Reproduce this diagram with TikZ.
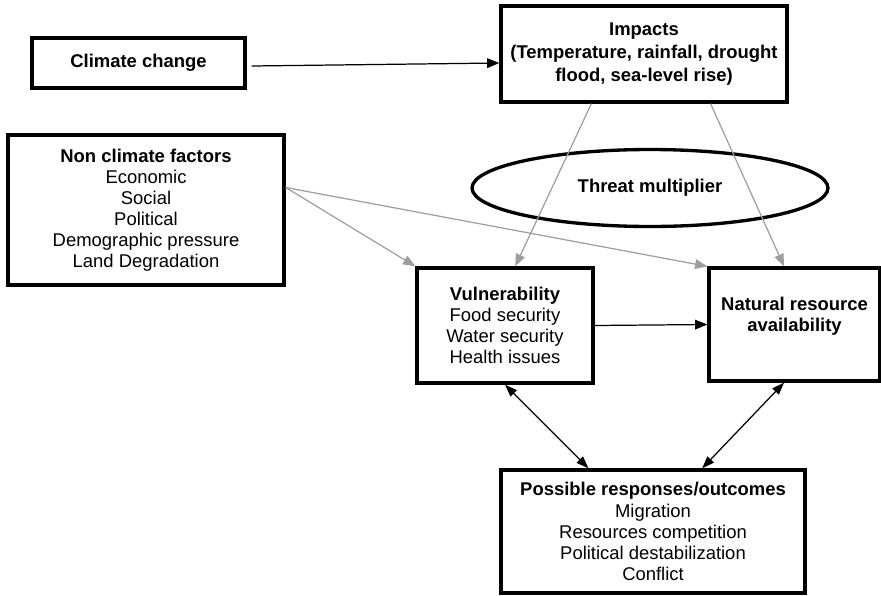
\documentclass[tikz,border=0pt]{standalone}
\usepackage{fontspec}
\setmainfont{Liberation Sans}
\usetikzlibrary{arrows.meta,calc,shapes.geometric}

\begin{document}
\begin{tikzpicture}[x=0.02cm,y=-0.02cm,
  box/.style={draw,line width=1.9pt,align=center,inner sep=0pt},
  blk/.style={-{Triangle[length=7pt,width=5.5pt]},line width=0.7pt},
  gry/.style={-{Triangle[length=7pt,width=5.5pt]},line width=0.7pt,black!38},
  both/.style={{Triangle[length=7pt,width=5pt]}-{Triangle[length=7pt,width=5pt]},line width=0.7pt}]
\fontsize{10.5}{12}\selectfont
\useasboundingbox (0,0) rectangle (881,595);
% boxes
\node[box,minimum width=4.26cm,minimum height=1cm] (clim) at (138.5,63) {\textbf{Climate change}};
\node[box,minimum width=5.52cm,minimum height=3cm] (nonc) at (146,210)
  {\textbf{Non climate factors}\\Economic\\Social\\Political\\Demographic pressure\\Land Degradation};
\node[box,minimum width=5.72cm,minimum height=1.92cm] (imp) at (644,54)
  {\textbf{Impacts}\\[1pt]\textbf{(Temperature, rainfall, drought}\\[1pt]\textbf{flood, sea-level rise)}};
\node[ellipse,draw,line width=1.9pt,minimum width=7.12cm,minimum height=1.54cm,inner sep=0pt] (thr) at (650,188)
  {\textbf{Threat multiplier}};
\node[box,minimum width=3.52cm,minimum height=2.3cm] (vul) at (505,325.5)
  {\textbf{Vulnerability}\\Food security\\Water security\\Health issues};
\node[box,minimum width=3.42cm,minimum height=2.26cm] (nat) at (794.5,324.5)
  {\textbf{Natural resource}\\\textbf{availability}\\~};
\node[box,minimum width=6.08cm,minimum height=2.46cm] (resp) at (653,531.5)
  {\textbf{Possible responses/outcomes}\\Migration\\Resources competition\\Political destabilization\\Conflict};
% arrows
\coordinate (ncout) at ($(nonc.north east)!0.353!(nonc.south east)$);
\draw[blk] ($(clim.east)+(5,3)$) -- ($(imp.west)+(0,9)$);
\draw[gry] ($(imp.south west)!0.318!(imp.south east)$) -- ($(vul.north west)!0.557!(vul.north east)$);
\draw[gry] ($(imp.south west)!0.73!(imp.south east)$) -- ($(nat.north west)!0.44!(nat.north east)$);
\draw[gry] (ncout) -- (vul.north west);
\draw[gry] (ncout) -- (nat.north west);
\draw[blk] (vul.east) -- (nat.west);
\draw[both] (vul.south) -- ($(resp.north west)!0.29!(resp.north east)$);
\draw[both] ($(nat.south west)!0.44!(nat.south east)$) -- ($(resp.north west)!0.66!(resp.north east)$);
\end{tikzpicture}
\end{document}
